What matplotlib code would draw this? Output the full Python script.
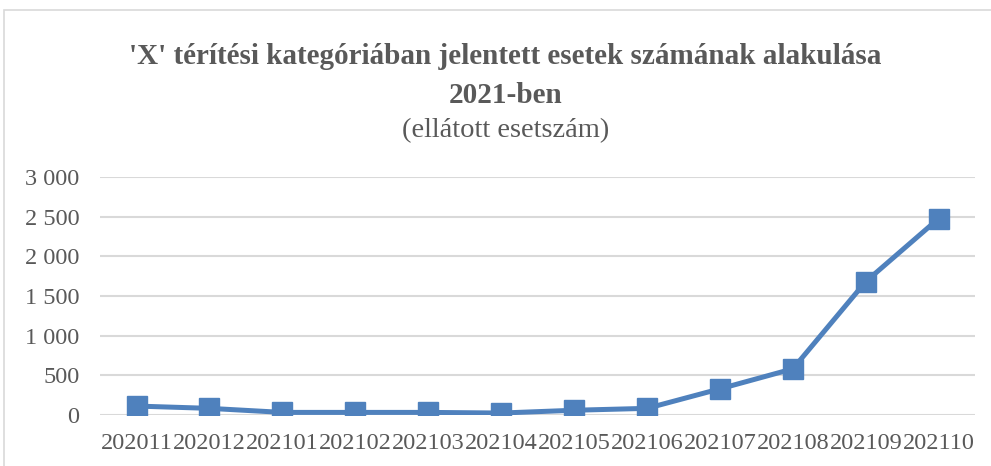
import matplotlib.pyplot as plt
from matplotlib.patches import Rectangle

# Data
months = ["202011", "202012", "202101", "202102", "202103", "202104",
          "202105", "202106", "202107", "202108", "202109", "202110"]
cases = [113, 84, 33, 33, 33, 25, 60, 84, 330, 582, 1682, 2477]
yticks = [0, 500, 1000, 1500, 2000, 2500, 3000]

title1 = "'X' térítési kategóriában jelentett esetek számának alakulása"
title2 = "2021-ben"
subtitle = "(ellátott esetszám)"

plt.rcParams['font.family'] = ['Liberation Serif', 'DejaVu Serif']
text_col = "#595959"

fig = plt.figure(figsize=(9.91, 4.66), dpi=100)
ax = fig.add_axes([0.101, 0.1094, 0.883, 0.5107])

# chart frame
fig.patches.append(Rectangle((4 / 991, -0.1), 1.2, 1 - 10 / 466 + 0.1,
                             transform=fig.transFigure, fill=False,
                             edgecolor="#D9D9D9", linewidth=1.2))

x = range(len(months))
ax.plot(x, cases, color="#4F81BD", linewidth=3.6, marker="s",
        markersize=14, zorder=3)

ax.set_xlim(-0.5, len(months) - 0.5)
ax.set_ylim(0, 3000)
ax.set_yticks(yticks)
ax.set_yticklabels([f"{v:,}".replace(",", " ") for v in yticks])
ax.set_xticks(list(x))
ax.set_xticklabels(months)
ax.tick_params(axis="both", length=0, labelsize=17.5, colors=text_col)
ax.tick_params(axis="y", pad=15)
ax.tick_params(axis="x", pad=13)
ax.grid(axis="y", color="#D9D9D9", linewidth=1.5)
ax.set_axisbelow(True)
for s in ax.spines.values():
    s.set_visible(False)

fig.text(0.51, 1 - 64 / 466, title1, ha="center", va="baseline",
         fontsize=21, fontweight="bold", color=text_col)
fig.text(0.51, 1 - 103 / 466, title2, ha="center", va="baseline",
         fontsize=21, fontweight="bold", color=text_col)
fig.text(0.51, 1 - 137 / 466, subtitle, ha="center", va="baseline",
         fontsize=20.5, color=text_col)

fig.savefig("out.png", dpi=100)
